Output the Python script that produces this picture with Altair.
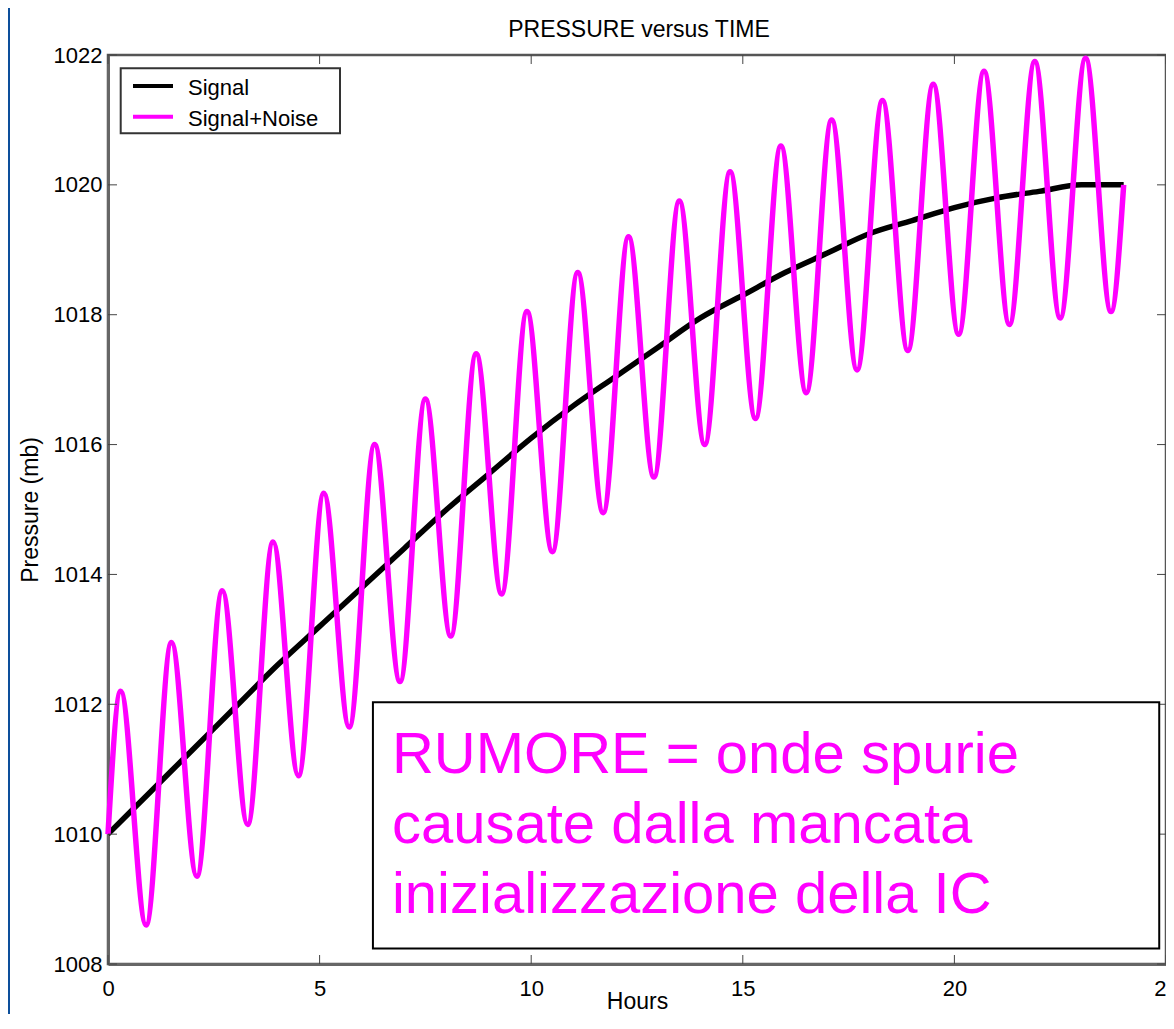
import altair as alt
import pandas as pd

# ---------------- data ----------------
signal_hours = list(range(25))
signal_mb = [1010.0, 1010.65, 1011.3, 1011.95, 1012.6, 1013.2, 1013.8, 1014.4,
             1015.0, 1015.55, 1016.1, 1016.6, 1017.05, 1017.5, 1017.95, 1018.3,
             1018.65, 1018.95, 1019.25, 1019.45, 1019.65, 1019.8, 1019.9, 1020.0, 1020.0]

# Signal+Noise: start, alternating peaks / troughs, end
noise_hours = [0.0, 0.3, 0.9, 1.5, 2.1, 2.7, 3.3, 3.9, 4.5, 5.1, 5.7, 6.3, 6.9, 7.5,
               8.1, 8.7, 9.3, 9.9, 10.5, 11.1, 11.7, 12.3, 12.9, 13.5, 14.1, 14.7,
               15.3, 15.9, 16.5, 17.1, 17.7, 18.3, 18.9, 19.5, 20.1, 20.7, 21.3,
               21.9, 22.5, 23.1, 23.7, 24.0]
noise_mb = [1010.0, 1012.2, 1008.6, 1012.95, 1009.35, 1013.75, 1010.15, 1014.5,
            1010.9, 1015.25, 1011.65, 1016.0, 1012.35, 1016.7, 1013.05, 1017.4,
            1013.7, 1018.05, 1014.35, 1018.65, 1014.95, 1019.2, 1015.5, 1019.75,
            1016.0, 1020.2, 1016.4, 1020.6, 1016.8, 1021.0, 1017.15, 1021.3,
            1017.45, 1021.55, 1017.7, 1021.75, 1017.85, 1021.9, 1017.95, 1021.95,
            1018.05, 1020.0]

series_names = ["Signal", "Signal+Noise"]
series_colors = ["#000000", "#ff00ff"]

x_tick_values = [0, 5, 10, 15, 20, 25]
y_tick_values = [1008, 1010, 1012, 1014, 1016, 1018, 1020, 1022]

chart_title = "PRESSURE versus TIME"
x_title = "Hours"
y_title = "Pressure (mb)"

note_lines = ["RUMORE = onde spurie", "causate dalla mancata", "inizializzazione della IC"]
note_line_mb = [1010.94, 1009.86, 1008.79]
note_hour = 6.71
note_box_hours = [6.26, 24.84]
note_box_mb = [1008.24, 1012.03]

# ---------------- chart ----------------
W, H = 1058, 909
FONT = "Liberation Sans"

xs = alt.Scale(domain=[0, 25], nice=False, zero=False)
ys = alt.Scale(domain=[1008, 1022], nice=False, zero=False)


def x_axis():
    return alt.Axis(values=x_tick_values, ticks=False, tickSize=0, grid=False,
                    domain=True, domainColor="#666666", domainWidth=3,
                    labelFont=FONT, labelFontSize=22, labelColor="black",
                    labelPadding=14, labelFlush=False, labelOverlap=False,
                    title=x_title, titleFont=FONT, titleFontSize=23,
                    titleFontWeight="normal", titleColor="black",
                    titleY=44, titleBaseline="alphabetic")


def y_axis():
    return alt.Axis(values=y_tick_values, format="d", ticks=False, tickSize=0,
                    grid=False, domain=True, domainColor="#666666", domainWidth=3,
                    labelFont=FONT, labelFontSize=22, labelColor="black",
                    labelPadding=6, labelFlush=False, labelOverlap=False,
                    title=y_title, titleFont=FONT, titleFontSize=23,
                    titleFontWeight="normal", titleColor="black",
                    titleAngle=270, titleX=-78, titleY=H / 2,
                    titleAlign="center", titleBaseline="middle")


def X(field="hours"):
    return alt.X(f"{field}:Q", scale=xs, axis=x_axis())


def Y(field="mb"):
    return alt.Y(f"{field}:Q", scale=ys, axis=y_axis())


sig_df = pd.DataFrame({"hours": signal_hours, "mb": signal_mb})
noise_df = pd.DataFrame({"hours": noise_hours, "mb": noise_mb})

signal_line = alt.Chart(sig_df).mark_line(
    color=series_colors[0], strokeWidth=5.5, interpolate="monotone"
).encode(x=X(), y=Y())

noise_line = alt.Chart(noise_df).mark_line(
    color=series_colors[1], strokeWidth=5.5, interpolate="monotone"
).encode(x=X(), y=Y())

# inward ticks on all four sides
xt = pd.DataFrame({"hours": x_tick_values})
yt = pd.DataFrame({"mb": y_tick_values})
TL = 9
tick_style = dict(color="#444444", strokeWidth=1)
ticks_bottom = alt.Chart(xt).mark_rule(**tick_style).encode(
    x=X(), y=alt.value(H), y2=alt.value(H - TL))
ticks_top = alt.Chart(xt).mark_rule(**tick_style).encode(
    x=X(), y=alt.value(0), y2=alt.value(TL))
ticks_left = alt.Chart(yt).mark_rule(**tick_style).encode(
    y=Y(), x=alt.value(0), x2=alt.value(TL))
ticks_right = alt.Chart(yt).mark_rule(**tick_style).encode(
    y=Y(), x=alt.value(W), x2=alt.value(W - TL))

one = pd.DataFrame({"k": [0]})

# thin strip of the blue slide border visible at the left edge
slide_strip = alt.Chart(one).mark_rect(fill="#0d4f9b").encode(
    x=alt.value(-100), x2=alt.value(-98), y=alt.value(-47), y2=alt.value(H + 50))

# legend box (MATLAB style, top-left inside the plot)
legend_box = alt.Chart(one).mark_rect(fill="white", stroke="#333333", strokeWidth=2).encode(
    x=alt.value(12.7), x2=alt.value(232), y=alt.value(13.3), y2=alt.value(78.3))
legend_layers = []
for i, (name, col) in enumerate(zip(series_names, series_colors)):
    yy = 31 + i * 30.7
    legend_layers.append(
        alt.Chart(one).mark_rule(color=col, strokeWidth=4).encode(
            x=alt.value(25), x2=alt.value(65), y=alt.value(yy)))
    legend_layers.append(
        alt.Chart(one).mark_text(text=name, align="left", baseline="alphabetic",
                                 font=FONT, fontSize=22, color="black").encode(
            x=alt.value(80), y=alt.value(yy + 9)))

# chart title as a text mark centred over the plot
title_mark = alt.Chart(one).mark_text(
    text=chart_title, align="center", baseline="alphabetic",
    font=FONT, fontSize=23, color="black"
).encode(x=alt.value(W / 2 + 2), y=alt.value(-18))

# annotation box with text
box_df = pd.DataFrame({"hours": [note_box_hours[0]], "hours2": [note_box_hours[1]],
                       "mb": [note_box_mb[0]], "mb2": [note_box_mb[1]]})
note_box = alt.Chart(box_df).mark_rect(fill="white", stroke="black", strokeWidth=2).encode(
    x=X(), x2="hours2:Q", y=Y(), y2="mb2:Q")
note_df = pd.DataFrame({"line": note_lines, "mb": note_line_mb, "hours": [note_hour] * 3})
note_text = alt.Chart(note_df).mark_text(
    align="left", baseline="alphabetic", font=FONT, fontSize=58, color="#ff00ff"
).encode(x=X(), y=Y(), text="line:N")

chart = alt.layer(
    slide_strip,
    signal_line, noise_line,
    ticks_bottom, ticks_top, ticks_left, ticks_right,
    legend_box, *legend_layers,
    note_box, note_text, title_mark,
).properties(
    width=W, height=H,
    autosize=alt.AutoSizeParams(type="none"),
    padding={"left": 100, "top": 47, "right": 0, "bottom": 50},
    background="white",
).configure_view(stroke="#555555", strokeWidth=2.5)

chart.save("out.html", embed_options={"renderer": "svg", "actions": False})
